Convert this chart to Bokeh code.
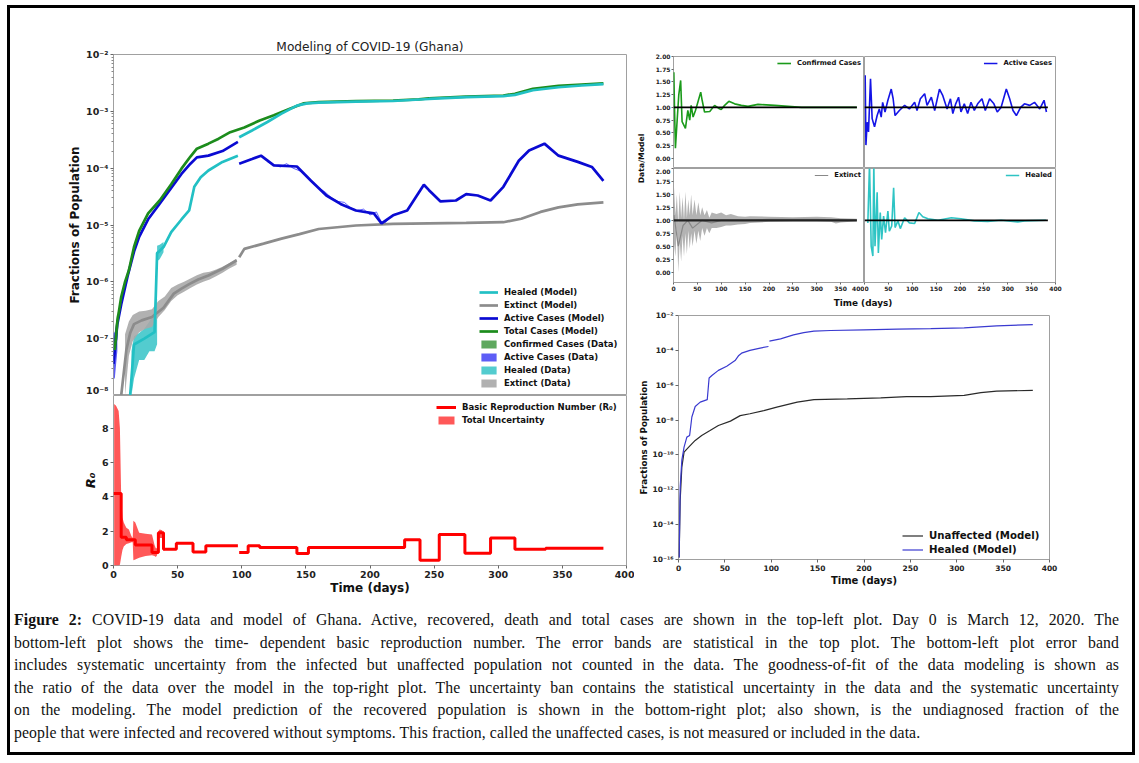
import numpy as np
from bokeh.plotting import figure
from bokeh.models import (Range1d, FixedTicker, CustomJSTickFormatter, Legend,
                          LegendItem, NumeralTickFormatter, Div)
from bokeh.layouts import column, row
from bokeh.core.properties import value
from bokeh.embed import file_html
from bokeh.resources import INLINE

FONT = "DejaVu Sans"

# ------------------------- data : top-left (fractions of population) -------------------------
total_days = [1, 3, 6, 9, 12, 16, 20, 27, 36, 45, 53, 60, 65, 74, 82, 91, 102, 114, 125, 137, 148,
              160, 189, 218, 238, 246, 275, 304, 313, 327, 347, 365, 382]
total_model = [6.3e-8, 2.0e-7, 5.4e-7, 1.0e-6, 1.6e-6, 4.1e-6, 7.9e-6, 1.6e-5, 2.7e-5, 5.2e-5, 9.8e-5,
               1.6e-4, 2.2e-4, 2.7e-4, 3.3e-4, 4.3e-4, 5.2e-4, 6.9e-4, 8.5e-4, 1.1e-3, 1.38e-3,
               1.45e-3, 1.51e-3, 1.55e-3, 1.62e-3, 1.70e-3, 1.82e-3, 1.9e-3, 2.04e-3, 2.5e-3, 2.8e-3,
               2.95e-3, 3.1e-3]

active1_days = [0, 1, 3, 6, 11, 16, 20, 27, 35, 45, 53, 60, 65, 74, 85, 97]
active1_model = [3.6e-8, 6.3e-8, 1.8e-7, 4.0e-7, 1.26e-6, 3.4e-6, 6.2e-6, 1.26e-5, 2.2e-5, 4.5e-5,
                 7.9e-5, 1.2e-4, 1.55e-4, 1.66e-4, 2.0e-4, 2.9e-4]
active2_days = [98, 108, 115, 125, 143, 154, 166, 177, 189, 203, 209, 218, 229, 242, 246, 255, 267,
                275, 284, 294, 304, 316, 324, 336, 347, 362, 373, 382]
active2_model = [1.2e-4, 1.45e-4, 1.66e-4, 1.12e-4, 1.07e-4, 6.0e-5, 3.3e-5, 2.35e-5, 1.8e-5, 1.6e-5,
                 1.07e-5, 1.48e-5, 1.8e-5, 5.1e-5, 4.1e-5, 2.6e-5, 2.7e-5, 3.5e-5, 3.3e-5, 2.7e-5,
                 4.7e-5, 1.35e-4, 2.05e-4, 2.7e-4, 1.66e-4, 1.29e-4, 1.05e-4, 6.0e-5]
active_data_days = [120, 125, 130, 135, 140, 145, 150, 155, 160, 165, 170, 175, 180, 185, 190, 195,
                    200, 205, 210, 215, 220]
active_data = [1.3e-4, 1.15e-4, 1.05e-4, 1.2e-4, 1.0e-4, 9.0e-5, 7.5e-5, 5.5e-5, 4.5e-5, 3.8e-5,
               3.0e-5, 2.6e-5, 2.5e-5, 2.0e-5, 1.8e-5, 1.9e-5, 1.5e-5, 1.7e-5, 1.0e-5, 1.3e-5, 1.6e-5]

healed1_days = [13, 16, 24, 32, 33, 34, 36, 39, 45, 53, 59, 63, 68, 74, 85, 97]
healed1_model = [1.0e-8, 7.9e-8, 1.0e-7, 1.3e-7, 6.0e-7, 3.2e-6, 3.5e-6, 4.1e-6, 7.5e-6, 1.25e-5,
                 1.8e-5, 4.7e-5, 6.9e-5, 9.1e-5, 1.29e-4, 1.66e-4]
healed2_days = [98, 108, 120, 131, 143, 151, 160, 189, 218, 246, 275, 304, 313, 327, 347, 365, 382]
healed2_model = [3.5e-4, 4.6e-4, 6.5e-4, 9.1e-4, 1.26e-3, 1.38e-3, 1.42e-3, 1.48e-3, 1.52e-3,
                 1.65e-3, 1.78e-3, 1.85e-3, 1.95e-3, 2.35e-3, 2.65e-3, 2.85e-3, 3.0e-3]

extinct1_days = [6, 10, 13, 16, 22, 30, 39, 47, 53, 59, 66, 74, 85, 96]
extinct1_model = [1.0e-8, 6.3e-8, 1.26e-7, 1.8e-7, 2.1e-7, 2.4e-7, 3.5e-7, 6.2e-7, 7.6e-7, 9.1e-7,
                  1.1e-6, 1.29e-6, 1.7e-6, 2.4e-6]
extinct2_days = [98, 102, 117, 131, 145, 160, 189, 218, 246, 275, 304, 318, 333, 347, 362, 382]
extinct2_model = [2.7e-6, 3.8e-6, 4.7e-6, 5.75e-6, 6.9e-6, 8.5e-6, 9.8e-6, 1.05e-5, 1.07e-5,
                  1.09e-5, 1.12e-5, 1.29e-5, 1.7e-5, 2.04e-5, 2.3e-5, 2.5e-5]

# data bands (statistical uncertainty)
conf_band_days = [0, 1, 2, 3]
conf_band_lo = [3.0e-8, 4.0e-8, 6.0e-8, 1.0e-7]
conf_band_hi = [1.1e-7, 1.3e-7, 2.0e-7, 3.0e-7]
act_band_days = [0, 1, 2, 3]
act_band_lo = [2.0e-8, 2.0e-8, 3.5e-8, 6.0e-8]
act_band_hi = [1.26e-7, 1.3e-7, 1.6e-7, 2.2e-7]
heal_band_days = [14, 16, 20, 24, 28, 32, 34]
heal_band_lo = [1.0e-8, 2.0e-8, 4.2e-8, 4.2e-8, 6.0e-8, 6.0e-8, 8.0e-8]
heal_band_hi = [6.0e-8, 1.1e-7, 1.26e-7, 1.5e-7, 2.0e-7, 3.0e-7, 5.0e-7]
heal_band2_days = [34, 36, 39]
heal_band2_lo = [2.3e-6, 2.5e-6, 3.3e-6]
heal_band2_hi = [4.3e-6, 4.5e-6, 5.0e-6]
ext_band_days = [9, 12, 15, 20, 25, 30, 35, 40, 45, 50, 55, 60, 65, 70, 75, 80, 85, 90, 96]
ext_band_lo = [1.0e-8, 5.0e-8, 9.0e-8, 1.3e-7, 1.5e-7, 1.6e-7, 2.4e-7, 3.2e-7, 4.6e-7, 5.8e-7, 6.7e-7,
               7.8e-7, 9.0e-7, 1.0e-6, 1.1e-6, 1.25e-6, 1.45e-6, 1.7e-6, 2.0e-6]
ext_band_hi = [1.2e-7, 2.0e-7, 2.6e-7, 3.0e-7, 3.1e-7, 3.3e-7, 4.6e-7, 5.5e-7, 7.8e-7, 9.0e-7, 1.0e-6,
               1.15e-6, 1.3e-6, 1.45e-6, 1.5e-6, 1.65e-6, 1.85e-6, 2.1e-6, 2.5e-6]

# ------------------------- data : bottom-left (R0) -------------------------
r0_days_1 = [0, 6, 10, 17, 30, 35, 39, 49, 62, 72, 97]
r0_vals_1 = [4.2, 1.65, 1.5, 1.2, 0.75, 1.9, 0.95, 1.3, 0.78, 1.15, 1.15]
r0_days_2 = [98, 105, 114, 143, 152, 227, 239, 254, 274, 294, 313, 337, 382]
r0_vals_2 = [0.75, 1.15, 1.05, 0.7, 1.05, 1.5, 0.3, 1.8, 0.72, 1.6, 0.95, 1.0, 1.0]
r0_band_days = [0.5, 2, 4, 5, 6, 7, 8, 10, 12, 14, 15, 15.5, 17, 20, 25, 30, 32, 33, 34, 35, 36, 38, 39, 40]
r0_band_lo = [0, 0, 0, 0.05, 0.5, 0.9, 1.1, 1.25, 1.3, 1.35, 1.35, 0.3, 0.35, 0.45, 0.55, 0.6, 0.55,
              0.5, 0.6, 1.5, 1.6, 1.6, 0.85, 0.9]
r0_band_hi = [9.4, 9.3, 9.0, 8.0, 4.0, 2.8, 2.5, 2.2, 2.1, 1.7, 1.6, 2.6, 2.5, 1.9, 1.85, 1.8, 1.2, 1.0,
              1.0, 2.0, 2.1, 2.05, 1.05, 1.0]

# ------------------------- data : top-right (data / model) -------------------------
ratio_ref_days = [0, 384]
ratio_ref = [1.0, 1.0]
conf_r_days = [0.7, 2, 4, 7, 11, 15, 18, 25, 30, 34, 37, 41, 46, 51, 57, 60, 65, 76, 86, 95, 100, 107,
               116, 128, 142, 156, 177, 212, 240, 268, 324, 384]
conf_r = [1.69, 1.04, 0.2, 0.65, 1.24, 1.53, 0.72, 0.59, 0.94, 0.75, 1.04, 0.81, 0.94, 1.1, 1.3, 1.14,
          0.91, 0.92, 1.04, 0.98, 0.96, 1.04, 1.12, 1.07, 1.04, 1.02, 1.06, 1.04, 1.02, 1.0, 1.0, 1.0]
act_r_days = [1.4, 3, 5.6, 8.4, 12.6, 16, 21, 26.5, 31, 35, 38, 43, 49, 56, 60, 64, 73, 84, 94, 105,
              110, 117, 126, 131, 140, 147, 157, 164, 173, 180, 185, 191, 197, 202, 209, 216, 223, 230,
              237, 246, 253, 262, 271, 278, 286, 297, 304, 311, 318, 327, 335, 346, 356, 367, 376, 381]
act_r = [1.63, 0.26, 0.71, 0.52, 1.56, 0.78, 0.62, 0.84, 0.97, 0.81, 1.1, 0.91, 1.14, 1.36, 1.17, 0.84,
         0.94, 1.04, 0.97, 1.1, 0.94, 1.17, 1.27, 1.04, 1.2, 0.94, 1.36, 1.23, 0.97, 1.17, 0.88, 1.07,
         1.2, 0.91, 1.07, 0.88, 1.1, 0.94, 1.07, 1.17, 0.94, 1.17, 1.07, 0.91, 1.0, 1.36, 1.17, 0.94,
         0.84, 1.0, 1.07, 1.04, 1.1, 0.97, 1.14, 0.91]
ext_r_days = [1, 4, 7, 10, 13, 16, 19, 22, 25, 28, 31, 34, 37, 40, 44, 48, 52, 56, 60, 65, 70, 75, 80,
              90, 100, 110, 120, 135, 150, 160, 200, 250, 300, 330, 340, 350, 384]
ext_r_lo = [0.55, 0.3, 0.85, 0.0, 0.6, 0.2, 0.7, 0.3, 0.75, 0.35, 0.8, 0.45, 0.75, 0.5, 0.8, 0.55, 0.8,
            0.6, 0.85, 0.7, 0.85, 0.75, 0.85, 0.85, 0.87, 0.9, 0.9, 0.92, 0.93, 0.95, 0.97, 0.98, 0.98,
            0.97, 0.94, 0.96, 0.98]
ext_r_hi = [1.65, 1.1, 1.5, 0.95, 1.55, 1.05, 1.45, 1.0, 1.55, 1.05, 1.4, 1.1, 1.5, 1.1, 1.4, 1.1, 1.35,
            1.1, 1.25, 1.1, 1.2, 1.05, 1.15, 1.12, 1.15, 1.1, 1.12, 1.08, 1.07, 1.08, 1.07, 1.06, 1.07,
            1.06, 1.05, 1.04, 1.03]
ext_r_mid_days = [1, 10, 20, 30, 40, 60, 80, 100, 150, 200, 300, 384]
ext_r_mid = [1.1, 0.5, 0.9, 1.0, 0.85, 1.0, 0.95, 1.0, 1.0, 1.02, 1.02, 1.0]
heal_r_days = [7, 10.5, 14, 17.5, 19.5, 22, 26.5, 29, 33, 36, 40, 44, 49, 52, 57, 61, 64, 70, 75, 84, 94,
               105, 114, 122, 133, 154, 182, 202, 230, 258, 286, 321, 335, 380]
heal_r = [0.95, 2.1, 0.5, 0.31, 2.1, 0.5, 1.54, 0.37, 1.15, 0.63, 1.08, 0.76, 1.18, 0.79, 0.89, 1.63,
          0.86, 0.99, 0.84, 1.05, 0.95, 0.94, 1.15, 1.07, 1.03, 1.0, 1.05, 1.03, 0.99, 0.98, 1.0, 0.97,
          0.99, 1.0]

# ------------------------- data : bottom-right (model only) -------------------------
br_heal1_days = [0.7, 1.8, 3.6, 6, 9, 12, 14.4, 18, 23.4, 31, 33, 36, 43, 52, 61, 65, 68, 77, 88, 97]
br_heal1 = [1.3e-16, 1.4e-12, 5.0e-11, 2.8e-10, 1.05e-9, 1.3e-9, 1.5e-8, 6.0e-8, 1.07e-7, 1.5e-7,
            2.6e-6, 3.6e-6, 7.1e-6, 1.23e-5, 2.6e-5, 5.1e-5, 6.9e-5, 1.0e-4, 1.35e-4, 1.66e-4]
br_heal2_days = [98, 110, 124, 135, 146, 164, 200, 236, 272, 308, 343, 382]
br_heal2 = [3.4e-4, 4.6e-4, 7.8e-4, 1.05e-3, 1.26e-3, 1.38e-3, 1.51e-3, 1.66e-3, 1.78e-3, 1.95e-3,
            2.57e-3, 3.0e-3]
br_unaff_days = [0.7, 1.8, 3.6, 6, 11, 18, 25, 34, 43, 56, 66.5, 77, 92, 106, 128, 146, 182, 218, 246,
                 272, 308, 326, 343, 382]
br_unaff = [1.3e-16, 2.5e-13, 2.0e-11, 1.45e-10, 2.8e-10, 6.8e-10, 1.3e-9, 2.5e-9, 4.9e-9, 8.7e-9,
            1.8e-8, 2.3e-8, 3.5e-8, 5.5e-8, 1.07e-7, 1.5e-7, 1.66e-7, 1.9e-7, 2.2e-7, 2.2e-7, 2.6e-7,
            3.8e-7, 4.6e-7, 5.0e-7]

# ------------------------- ticks -------------------------
x_ticks = [0, 50, 100, 150, 200, 250, 300, 350, 400]
main_yticks = [1e-8, 1e-7, 1e-6, 1e-5, 1e-4, 1e-3, 1e-2]
r0_ticks = [0, 2, 4, 6, 8]
ratio_ticks = [0.0, 0.25, 0.5, 0.75, 1.0, 1.25, 1.5, 1.75, 2.0]
br_yticks = [1e-16, 1e-14, 1e-12, 1e-10, 1e-8, 1e-6, 1e-4, 1e-2]

caption_lines = [
    "<b>Figure 2:</b> COVID-19 data and model of Ghana. Active, recovered, death and total cases are shown in the top-left plot. Day 0 is March 12, 2020. The",
    "bottom-left plot shows the time- dependent basic reproduction number. The error bands are statistical in the top plot. The bottom-left plot error band",
    "includes systematic uncertainty from the infected but unaffected population not counted in the data. The goodness-of-fit of the data modeling is shown as",
    "the ratio of the data over the model in the top-right plot. The uncertainty ban contains the statistical uncertainty in the data and the systematic uncertainty",
    "on the modeling. The model prediction of the recovered population is shown in the bottom-right plot; also shown, is the undiagnosed fraction of the",
    "people that were infected and recovered without symptoms. This fraction, called the unaffected cases, is not measured or included in the data.",
]

# ------------------------- colours -------------------------
C_GREEN = "#1c8c1c"
C_BLUE = "#0a0ad2"
C_CYAN = "#22c0c4"
C_GRAY = "#8c8c8c"

sup_fmt = CustomJSTickFormatter(code="""
const e = Math.round(Math.log10(tick));
const m = {'-':'⁻','0':'⁰','1':'¹','2':'²','3':'³','4':'⁴','5':'⁵','6':'⁶','7':'⁷','8':'⁸','9':'⁹'};
return '10' + String(e).split('').map(c => m[c]).join('');
""")


def style(p, tick_px, label_px, tick_len=3):
    p.outline_line_color = "#a0a0a0"
    p.outline_line_width = 1
    p.grid.visible = False
    p.background_fill_color = "white"
    p.border_fill_color = "white"
    for ax in p.axis:
        ax.axis_line_color = None
        ax.major_tick_line_color = "#666666"
        ax.major_tick_out = tick_len
        ax.major_tick_in = 0
        ax.minor_tick_line_color = None
        ax.major_label_text_font = FONT
        ax.major_label_text_font_style = "bold"
        ax.major_label_text_font_size = f"{tick_px}px"
        ax.major_label_text_color = "#222222"
        ax.major_label_standoff = 2
        ax.axis_label_text_font = FONT
        ax.axis_label_text_font_style = "bold"
        ax.axis_label_text_font_size = f"{label_px}px"
        ax.axis_label_text_color = "#111111"
        ax.axis_label_standoff = 1


def legend(items, loc, size, gw, gh, spacing, padding=4, margin=0):
    lg = Legend(items=items, location=loc, label_text_font=FONT, label_text_font_style="bold",
                label_text_font_size=size, label_text_color="#111111", glyph_width=gw,
                glyph_height=gh, label_height=gh, spacing=spacing, padding=padding, margin=margin,
                border_line_color=None, background_fill_alpha=0.0, label_standoff=6)
    return lg


xr = Range1d(0, 400)

# ------------------------- main plot -------------------------
p1 = figure(frame_width=513, frame_height=341, min_border_left=103, min_border_right=8,
            min_border_top=46, min_border_bottom=0, x_range=xr, y_range=Range1d(1e-8, 1e-2),
            y_axis_type="log", output_backend="svg", toolbar_location=None,
            title="Modeling of COVID-19 (Ghana)")
style(p1, 9.5, 12)
p1.xaxis.visible = False
p1.yaxis.ticker = FixedTicker(ticks=main_yticks,
                              minor_ticks=[m * t for t in main_yticks[:-1] for m in range(2, 10)])
p1.yaxis.minor_tick_line_color = "#888888"
p1.yaxis.minor_tick_out = 2
p1.yaxis.formatter = sup_fmt
p1.yaxis.axis_label = "Fractions of Population"
p1.title.align = "center"
p1.title.text_font = FONT
p1.title.text_font_style = "normal"
p1.title.text_font_size = "12.2px"
p1.title.text_color = "#222222"
p1.title.standoff = 2

b_conf = p1.varea(x=conf_band_days, y1=conf_band_lo, y2=conf_band_hi, fill_color="#4d9e4d", fill_alpha=0.9)
b_act = p1.varea(x=act_band_days, y1=act_band_lo, y2=act_band_hi, fill_color="#4b4bf5", fill_alpha=0.9)
b_heal = p1.varea(x=heal_band_days, y1=heal_band_lo, y2=heal_band_hi, fill_color="#40c6ca", fill_alpha=0.9)
p1.varea(x=heal_band2_days, y1=heal_band2_lo, y2=heal_band2_hi, fill_color="#40c6ca", fill_alpha=0.9)
b_ext = p1.varea(x=ext_band_days, y1=ext_band_lo, y2=ext_band_hi, fill_color="#a8a8a8", fill_alpha=0.9)

p1.line(active_data_days, active_data, line_color="#3a3aff", line_width=1, line_alpha=0.8)
l_ext = p1.line(extinct1_days, extinct1_model, line_color=C_GRAY, line_width=2.7)
p1.line(extinct2_days, extinct2_model, line_color=C_GRAY, line_width=2.7)
l_act = p1.line(active1_days, active1_model, line_color=C_BLUE, line_width=2.7)
p1.line(active2_days, active2_model, line_color=C_BLUE, line_width=2.7)
l_tot = p1.line(total_days, total_model, line_color=C_GREEN, line_width=2.7)
l_heal = p1.line(healed1_days, healed1_model, line_color=C_CYAN, line_width=2.7)
p1.line(healed2_days, healed2_model, line_color=C_CYAN, line_width=2.7)

lg1 = legend([LegendItem(label="Healed (Model)", renderers=[l_heal]),
              LegendItem(label="Extinct (Model)", renderers=[l_ext]),
              LegendItem(label="Active Cases (Model)", renderers=[l_act]),
              LegendItem(label="Total Cases (Model)", renderers=[l_tot]),
              LegendItem(label="Confirmed Cases (Data)", renderers=[b_conf]),
              LegendItem(label="Active Cases (Data)", renderers=[b_act]),
              LegendItem(label="Healed (Data)", renderers=[b_heal]),
              LegendItem(label="Extinct (Data)", renderers=[b_ext])],
             (366, 7), "8.5px", 19, 10, 3)
p1.add_layout(lg1, "center")

# ------------------------- R0 plot -------------------------
p2 = figure(frame_width=513, frame_height=170, min_border_left=103, min_border_right=8,
            min_border_top=0, min_border_bottom=35, x_range=xr, y_range=Range1d(0, 9.9),
            output_backend="svg", toolbar_location=None)
style(p2, 9.5, 12)
p2.xaxis.ticker = FixedTicker(ticks=x_ticks)
p2.yaxis.ticker = FixedTicker(ticks=r0_ticks)
p2.xaxis.axis_label = "Time (days)"
p2.yaxis.axis_label = "R₀"
p2.yaxis.axis_label_text_font_style = "bold italic"
p2.yaxis.axis_label_text_font_size = "13px"
p2.xaxis.axis_label_standoff = 0

b_r0 = p2.varea(x=r0_band_days, y1=r0_band_lo, y2=r0_band_hi, fill_color="#ff3b3b", fill_alpha=0.85)
l_r0 = p2.step(r0_days_1, r0_vals_1, mode="after", line_color="#ff0000", line_width=3)
p2.step(r0_days_2, r0_vals_2, mode="after", line_color="#ff0000", line_width=3)
lg2 = legend([LegendItem(label="Basic Reproduction Number (R₀)", renderers=[l_r0]),
              LegendItem(label="Total Uncertainty", renderers=[b_r0])],
             (323, 140), "8.5px", 20, 10, 3)
p2.add_layout(lg2, "center")

# ------------------------- ratio panels -------------------------
def ratio_fig(left, right, top, bottom, show_x, show_y):
    f = figure(frame_width=191, frame_height=112 if top else 114, min_border_left=left,
               min_border_right=right, min_border_top=top, min_border_bottom=bottom,
               x_range=Range1d(0, 400), y_range=Range1d(-0.2, 2.0), output_backend="svg",
               toolbar_location=None)
    style(f, 6, 8, tick_len=2)
    f.xaxis.ticker = FixedTicker(ticks=x_ticks)
    f.yaxis.ticker = FixedTicker(ticks=ratio_ticks)
    f.yaxis.formatter = NumeralTickFormatter(format="0.00")
    f.xaxis.major_label_standoff = 1
    f.yaxis.major_label_standoff = 1
    f.xaxis.visible = show_x
    f.yaxis.visible = show_y
    return f


tl = ratio_fig(20, 0, 48, 0, False, True)
tr = ratio_fig(0, 77, 48, 0, False, False)
bl = ratio_fig(20, 0, 0, 12, True, True)
brr = ratio_fig(0, 77, 0, 12, True, False)

r_conf = tl.line(conf_r_days, conf_r, line_color="#1a9a1a", line_width=1.6)
tl.line(ratio_ref_days, ratio_ref, line_color="black", line_width=1.8)
r_act = tr.line(act_r_days, act_r, line_color="#1414e6", line_width=1.6)
tr.line(ratio_ref_days, ratio_ref, line_color="black", line_width=1.8)
bl.varea(x=ext_r_days, y1=ext_r_lo, y2=ext_r_hi, fill_color="#9a9a9a", fill_alpha=0.75)
r_ext = bl.line(ext_r_mid_days, ext_r_mid, line_color="#888888", line_width=1.2)
bl.line(ratio_ref_days, ratio_ref, line_color="#222222", line_width=2.2)
r_heal = brr.line(heal_r_days, heal_r, line_color="#2ec4c4", line_width=1.6)
brr.line(ratio_ref_days, ratio_ref, line_color="black", line_width=1.8)

for f, lab, rr in [(tl, "Confirmed Cases", r_conf), (tr, "Active Cases", r_act),
                   (bl, "Extinct", r_ext), (brr, "Healed", r_heal)]:
    f.add_layout(legend([LegendItem(label=lab, renderers=[rr])], "top_right", "6.8px", 14, 8, 0,
                        padding=3, margin=3), "center")

# vertical label spanning the two ratio rows
lab_fig = figure(width=18, height=286, x_range=Range1d(0, 18), y_range=Range1d(0, 286), min_border=0,
                 x_axis_location=None, y_axis_location=None, output_backend="svg",
                 toolbar_location=None)
lab_fig.outline_line_color = None
lab_fig.grid.visible = False
lab_fig.text(x=[7], y=[136], text=["Data/Model"], angle=np.pi / 2, text_align="center",
             text_baseline="middle", text_font=value(FONT), text_font_style="bold",
             text_font_size="7.7px", text_color="#111111")

# horizontal label under the two ratio columns
strip = Div(text=('<div style="width:458px;text-align:center;font-family:\'DejaVu Sans\';'
                  'font-weight:bold;font-size:8.9px;line-height:13px;color:#111;">Time (days)</div>'),
            width=497, height=13, margin=0)

# ------------------------- bottom-right plot -------------------------
p4 = figure(frame_width=371, frame_height=244, min_border_left=44, min_border_right=82,
            min_border_top=8, min_border_bottom=41, x_range=Range1d(0, 400),
            y_range=Range1d(1e-16, 1e-2), y_axis_type="log", output_backend="svg",
            toolbar_location=None)
style(p4, 7.5, 8.7)
p4.xaxis.ticker = FixedTicker(ticks=x_ticks)
p4.yaxis.ticker = FixedTicker(ticks=br_yticks)
p4.yaxis.formatter = sup_fmt
p4.xaxis.axis_label = "Time (days)"
p4.xaxis.axis_label_text_font_size = "10px"
p4.yaxis.axis_label = "Fractions of Population"
l_un = p4.line(br_unaff_days, br_unaff, line_color="#2a2a2a", line_width=1.2)
l_bh = p4.line(br_heal1_days, br_heal1, line_color="#3a3ad0", line_width=1.2)
p4.line(br_heal2_days, br_heal2, line_color="#3a3ad0", line_width=1.2)
p4.add_layout(legend([LegendItem(label="Unaffected (Model)", renderers=[l_un]),
                      LegendItem(label="Healed (Model)", renderers=[l_bh])],
                     (224, 4), "10.2px", 21, 11, 3), "center")

# ------------------------- caption -------------------------
inner = "".join(
    '<div style="text-align:justify;text-align-last:%s;">%s</div>' % ("justify" if i < len(caption_lines) - 1 else "left", t)
    for i, t in enumerate(caption_lines))
cap_html = ('<div style="font-family:\'Liberation Serif\',serif;font-size:15.75px;line-height:22.6px;'
            'letter-spacing:0.1px;color:#111;padding:9px 4px 0 4px;width:1113px;">' + inner + '</div>')
cap = Div(text=cap_html, width=1121, height=152, margin=0)

left_col = column(p1, p2)
ratio_grid = column(row(tl, tr), row(bl, brr))
right_col = column(row(lab_fig, ratio_grid), strip, p4)
root = column(row(left_col, right_col), cap, margin=(5, 0, 0, 7),
              styles={"border": "3px solid black", "background-color": "white"})

open("out.html", "w").write(file_html(root, INLINE))
